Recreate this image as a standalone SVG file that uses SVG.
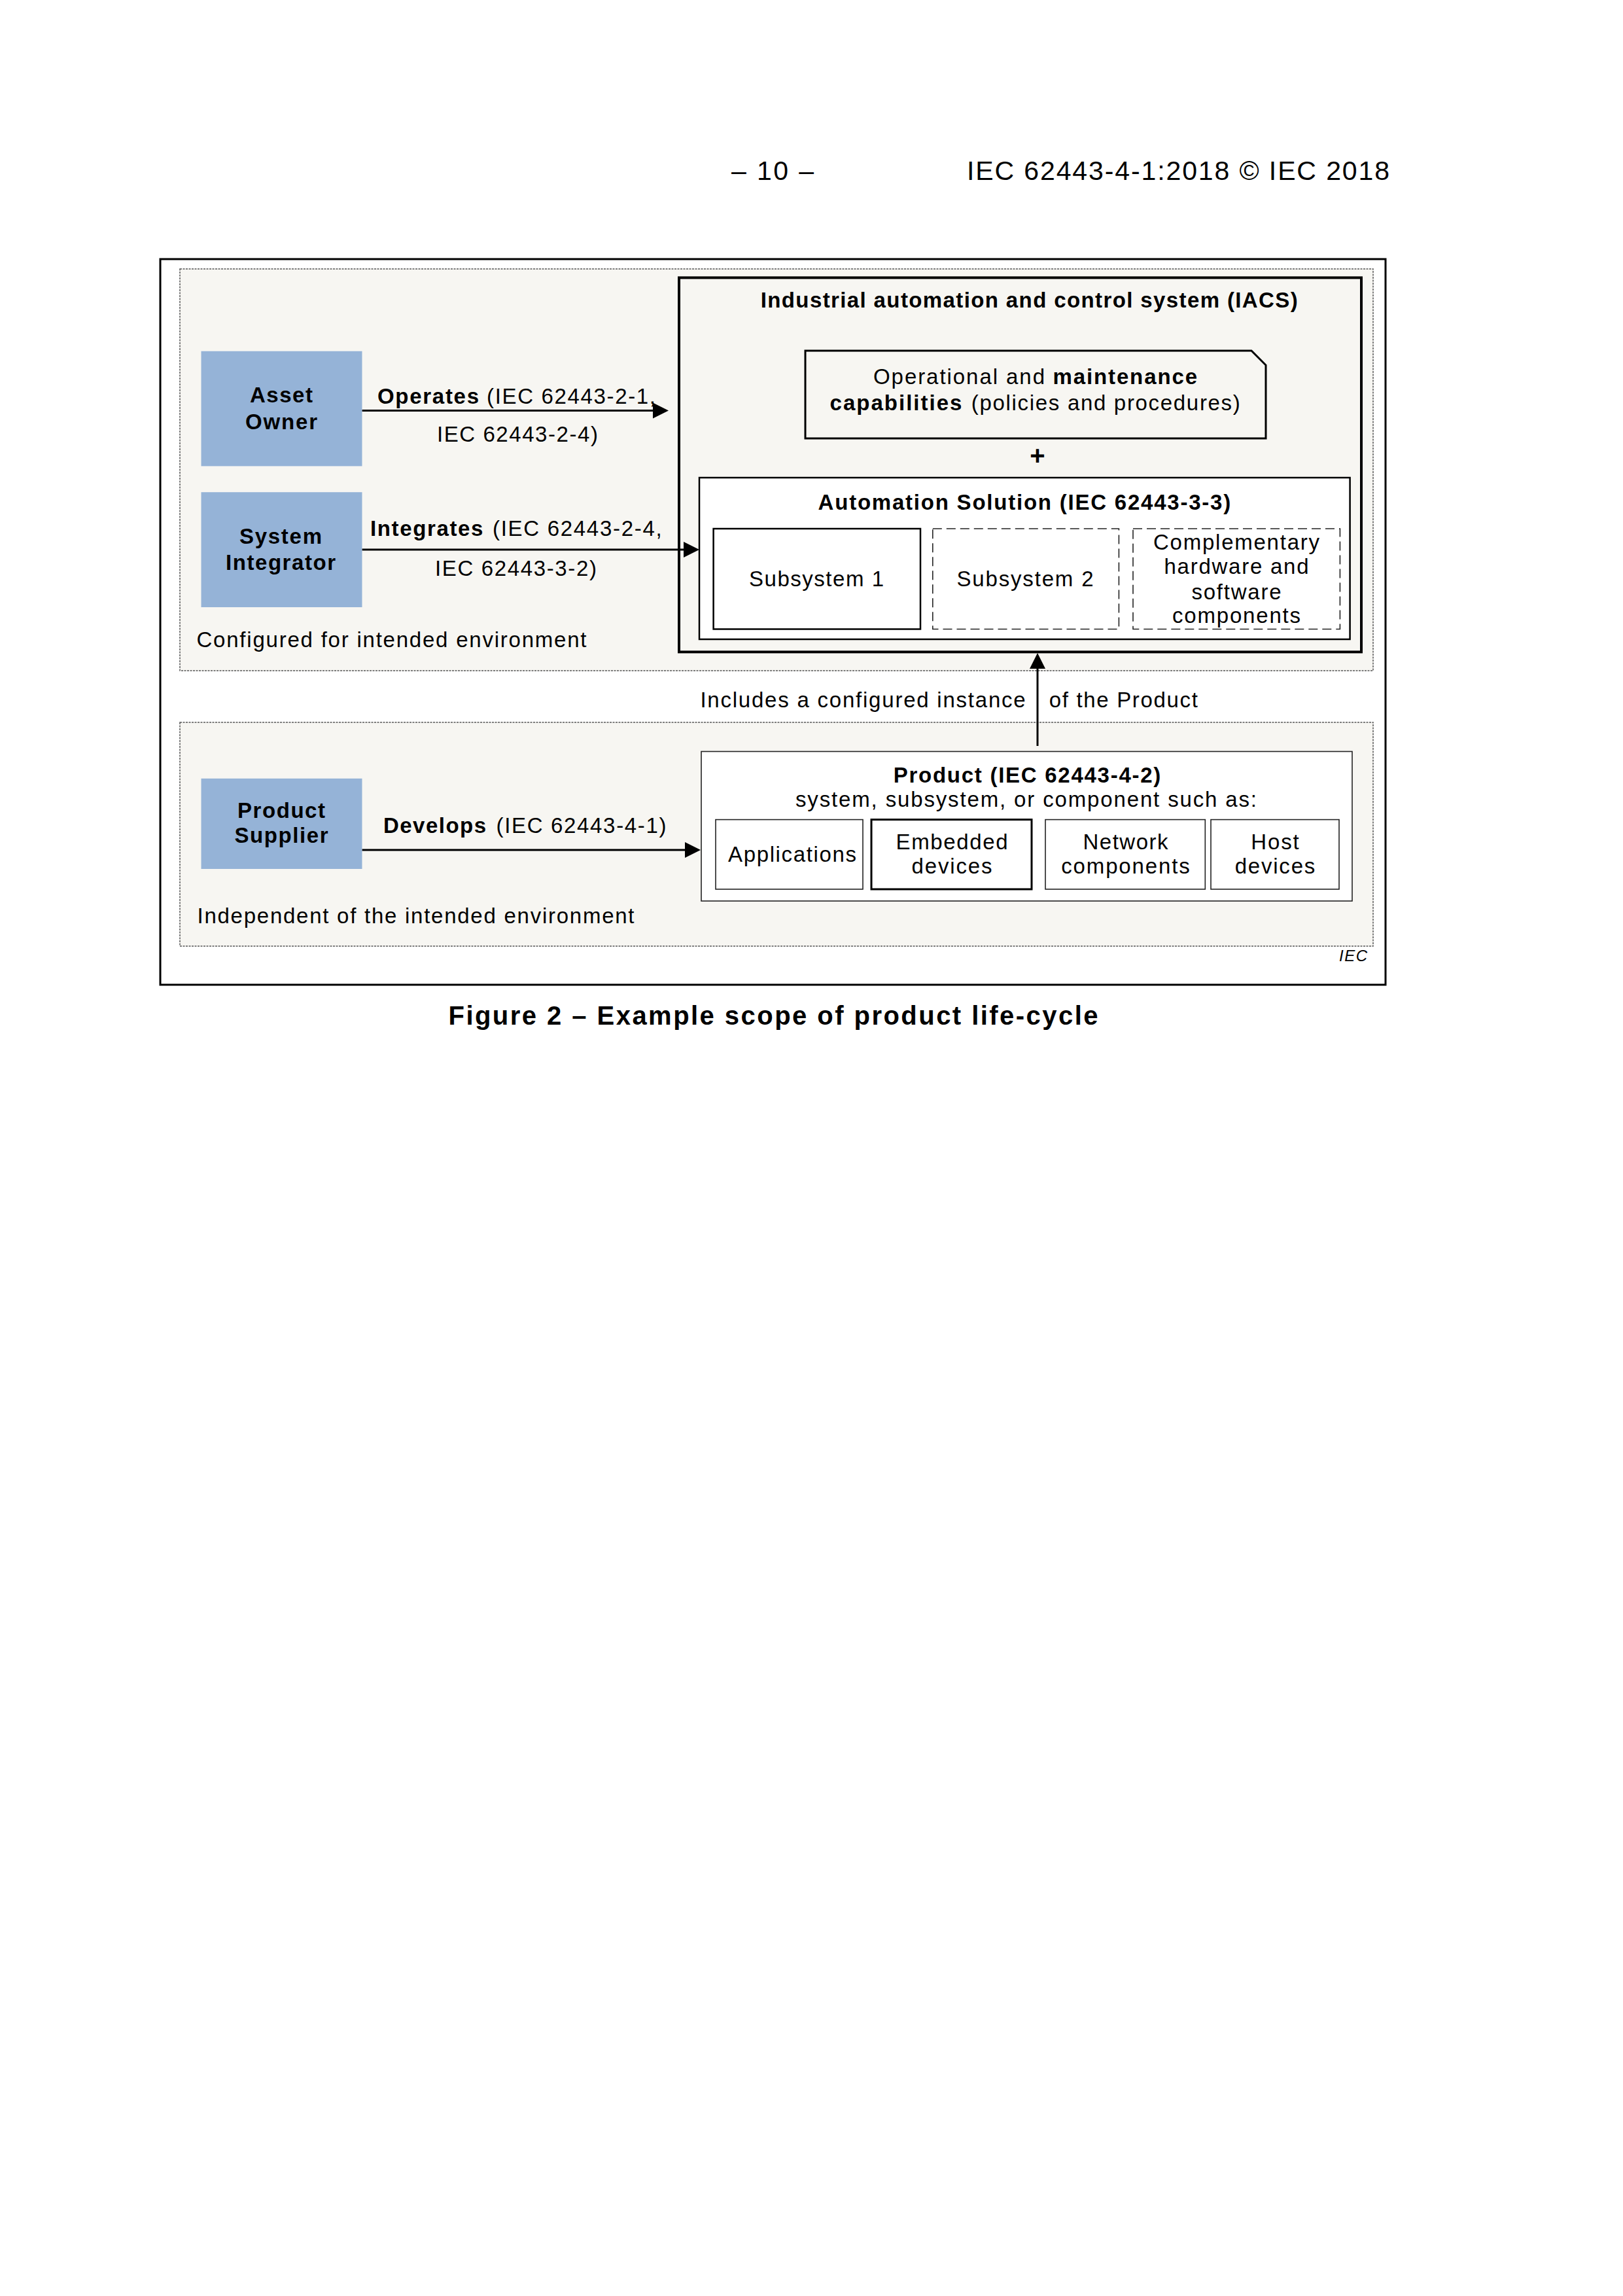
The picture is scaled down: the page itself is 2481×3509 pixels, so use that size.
<svg xmlns="http://www.w3.org/2000/svg" width="2481" height="3509" viewBox="0 0 2481 3509">
<style>
text{font-family:"Liberation Sans",Arial,sans-serif;font-size:33px;fill:#000}
.b{font-weight:bold}
.c{text-anchor:middle}
.panel{fill:#f7f6f2;stroke:#555;stroke-width:1.5;stroke-dasharray:3 1.5}
.blue{fill:#95b3d7}
.wbox{fill:#fff;stroke:#000;stroke-width:2.5}
.thin{fill:#fff;stroke:#222;stroke-width:1.6}
.dash{fill:#fff;stroke:#222;stroke-width:1.6;stroke-dasharray:14 7}
.conn{stroke:#000;stroke-width:3;fill:none}
</style>
<defs>
<marker id="ah" markerUnits="userSpaceOnUse" viewBox="0 0 24 24" markerWidth="24" markerHeight="24" refX="12" refY="12" orient="auto">
<path d="M0,0 L24,12 L0,24 Z" fill="#000"/>
</marker>
</defs>
<rect width="2481" height="3509" fill="#fff"/>
<g id="header">
<text x="1118" y="275" style="font-size:41px" textLength="126">– 10 –</text>
<text x="1478" y="275" style="font-size:41px" textLength="646">IEC 62443-4-1:2018 © IEC 2018</text>
</g>
<g id="frame">
<rect x="245" y="396" width="1873" height="1109" fill="none" stroke="#000" stroke-width="3"/>
</g>
<g id="panel-configured">
<rect class="panel" x="275" y="411" width="1824" height="614"/>
<text x="300.5" y="989" textLength="596">Configured for intended environment</text>
</g>
<g id="panel-independent">
<rect class="panel" x="275" y="1104" width="1824" height="342"/>
<text x="301.5" y="1411" textLength="668">Independent of the intended environment</text>
</g>
<g id="asset-owner">
<rect class="blue" x="307.5" y="536.7" width="246" height="175.7"/>
<text class="b c" x="430" y="615" textLength="96">Asset</text>
<text class="b c" x="430" y="655.6" textLength="110">Owner</text>
</g>
<g id="system-integrator">
<rect class="blue" x="307.5" y="752.2" width="246" height="175.8"/>
<text class="b c" x="429" y="831" textLength="126">System</text>
<text class="b c" x="429" y="871" textLength="168">Integrator</text>
</g>
<g id="product-supplier">
<rect class="blue" x="307.5" y="1189.8" width="246" height="138.2"/>
<text class="b c" x="430" y="1249.5" textLength="134">Product</text>
<text class="b c" x="430" y="1287.8" textLength="143">Supplier</text>
</g>
<g id="iacs">
<rect x="1038" y="424.4" width="1043" height="572" fill="none" stroke="#000" stroke-width="4"/>
<text class="b" x="1162.7" y="470.4" textLength="821">Industrial automation and control system (IACS)</text>
</g>
<g id="operational">
<path d="M1231,536 H1913 L1935,558 V670 H1231 Z" fill="#f7f6f2" stroke="#000" stroke-width="3"/>
<text x="1335" y="587.3" textLength="262">Operational and</text>
<text class="b" x="1609.5" y="587.3" textLength="220.5">maintenance</text>
<text class="b" x="1268.6" y="626.6" textLength="201.8">capabilities</text>
<text x="1484.8" y="626.6" textLength="411">(policies and procedures)</text>
</g>
<g id="plus">
<text class="b c" x="1586" y="710" style="font-size:40px">+</text>
</g>
<g id="automation-solution">
<rect class="wbox" x="1069" y="730" width="994.6" height="247"/>
<text class="b" x="1250.6" y="778.7" textLength="630.6">Automation Solution (IEC 62443-3-3)</text>
</g>
<g id="subsystem-1">
<rect class="wbox" x="1090.6" y="808" width="316.4" height="153.5"/>
<text class="c" x="1248" y="896" textLength="206">Subsystem 1</text>
</g>
<g id="subsystem-2">
<rect class="dash" x="1425.8" y="808" width="284.6" height="153.5"/>
<text class="c" x="1567" y="896" textLength="209">Subsystem 2</text>
</g>
<g id="complementary">
<rect class="dash" x="1732" y="808" width="316.4" height="153.5"/>
<text class="c" x="1890" y="840" textLength="254">Complementary</text>
<text class="c" x="1890" y="877.4" textLength="221">hardware and</text>
<text class="c" x="1890" y="916" textLength="137">software</text>
<text class="c" x="1890" y="952" textLength="196">components</text>
</g>
<g id="product">
<rect class="thin" x="1072" y="1148.5" width="995" height="228.5"/>
<text class="b c" x="1570" y="1196" textLength="408.6">Product (IEC 62443-4-2)</text>
<text class="c" x="1568.5" y="1233.4" textLength="705">system, subsystem, or component such as:</text>
</g>
<g id="applications">
<rect class="thin" x="1094" y="1252.6" width="225" height="106.4"/>
<text class="c" x="1211" y="1316.9" textLength="196">Applications</text>
</g>
<g id="embedded-devices">
<rect class="wbox" x="1332" y="1252.6" width="245" height="106.4" style="stroke-width:3"/>
<text class="c" x="1455" y="1297.7" textLength="171">Embedded</text>
<text class="c" x="1455" y="1334.9" textLength="123">devices</text>
</g>
<g id="network-components">
<rect class="thin" x="1598" y="1252.6" width="244.3" height="106.4"/>
<text class="c" x="1720.5" y="1297.7" textLength="130">Network</text>
<text class="c" x="1720.5" y="1334.9" textLength="196.7">components</text>
</g>
<g id="host-devices">
<rect class="thin" x="1851" y="1252.6" width="196" height="106.4"/>
<text class="c" x="1949" y="1297.7" textLength="73.5">Host</text>
<text class="c" x="1949" y="1334.9" textLength="122.5">devices</text>
</g>
<g id="connectors">
<line class="conn" x1="553.6" y1="627.5" x2="1010" y2="627.5" marker-end="url(#ah)"/>
<line class="conn" x1="553.6" y1="840" x2="1057" y2="840" marker-end="url(#ah)"/>
<line class="conn" x1="553.6" y1="1299" x2="1059" y2="1299" marker-end="url(#ah)"/>
<line class="conn" x1="1586" y1="1140" x2="1586" y2="1010" marker-end="url(#ah)"/>
</g>
<g id="connector-labels">
<text class="b" x="577" y="617" textLength="155">Operates</text>
<text x="744" y="617" textLength="258">(IEC 62443-2-1,</text>
<text x="668" y="675" textLength="246">IEC 62443-2-4)</text>
<text class="b" x="566" y="818.5" textLength="172.4">Integrates</text>
<text x="753" y="818.5" textLength="258.6">(IEC 62443-2-4,</text>
<text x="665" y="879.5" textLength="247">IEC 62443-3-2)</text>
<text class="b" x="586" y="1272.5" textLength="157">Develops</text>
<text x="758.5" y="1272.5" textLength="260">(IEC 62443-4-1)</text>
<text x="1070.4" y="1081" textLength="497.3">Includes a configured instance</text>
<text x="1603.8" y="1081" textLength="227">of the Product</text>
</g>
<g id="source">
<text x="2047" y="1469" style="font-size:24px;font-style:italic" textLength="43">IEC</text>
</g>
<g id="caption">
<text class="b" x="685.5" y="1566.4" style="font-size:40px" textLength="993">Figure 2 – Example scope of product life-cycle</text>
</g>
</svg>
